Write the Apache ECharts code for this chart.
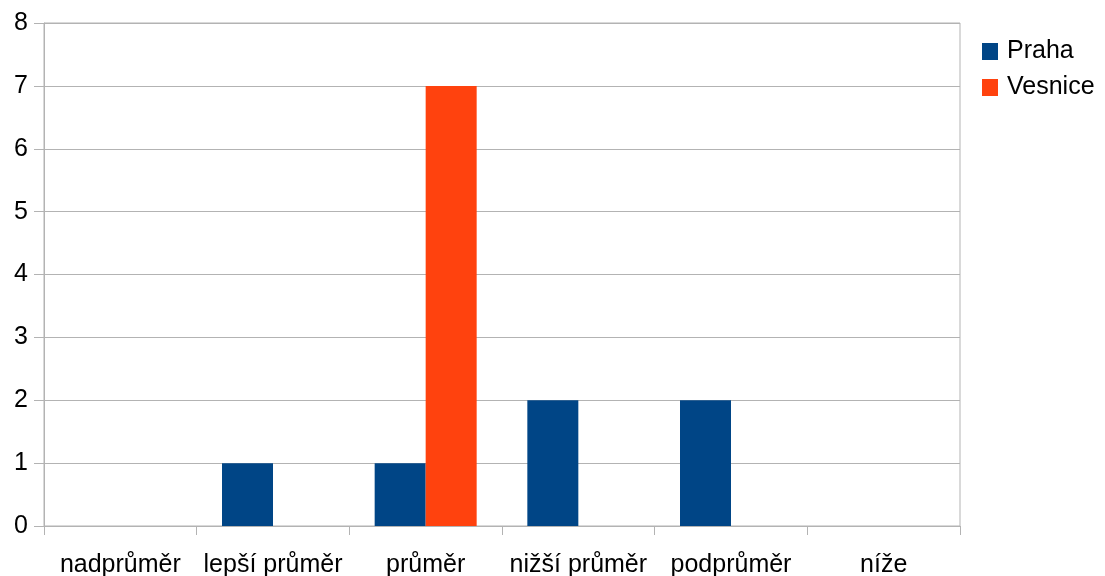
<!DOCTYPE html>
<html>
<head>
<meta charset="utf-8">
<script src="https://cdn.jsdelivr.net/npm/echarts@6/dist/echarts.min.js"></script>
<style>html,body{margin:0;padding:0;background:#fff}#c{width:1105px;height:576px}</style>
</head>
<body>
<div id="c"></div>
<script>
const categories = ['nadprůměr', 'lepší průměr', 'průměr', 'nižší průměr', 'podprůměr', 'níže'];
const praha = [0, 1, 1, 2, 2, 0];
const vesnice = [0, 0, 7, 0, 0, 0];
const seriesNames = ['Praha', 'Vesnice'];

const chart = echarts.init(document.getElementById('c'));
const font = 'Liberation Sans, Arial, sans-serif';
const gray = '#b3b3b3';
chart.setOption({
  animation: false,
  textStyle: { fontFamily: font },
  grid: { left: 44, right: 145, top: 23, bottom: 50, show: true, borderColor: gray, borderWidth: 1, outerBoundsMode: 'none', containLabel: false },
  legend: {
    orient: 'vertical', left: 982, top: 39, padding: 0, itemWidth: 16, itemHeight: 17, itemGap: 11,
    icon: 'rect',
    textStyle: { fontSize: 25, lineHeight: 17, color: '#000', fontFamily: font, padding: [2, 0, 0, 4] },
    data: seriesNames
  },
  xAxis: {
    type: 'category', data: categories,
    axisLine: { lineStyle: { color: gray } },
    axisTick: { show: true, length: 9, lineStyle: { color: gray } },
    axisLabel: { fontSize: 25, color: '#000', margin: 27, fontFamily: font, interval: 0 }
  },
  yAxis: {
    type: 'value', min: 0, max: 8, interval: 1,
    axisLine: { show: true, lineStyle: { color: gray } },
    axisTick: { show: true, length: 10, lineStyle: { color: gray } },
    splitLine: { lineStyle: { color: gray } },
    axisLabel: { fontSize: 25, color: '#000', margin: 16, fontFamily: font }
  },
  series: [
    { name: seriesNames[0], type: 'bar', data: praha, barWidth: 51, barGap: '0%', itemStyle: { color: '#004586' } },
    { name: seriesNames[1], type: 'bar', data: vesnice, barWidth: 51, barGap: '0%', itemStyle: { color: '#ff420e' } }
  ]
});
</script>
</body>
</html>
